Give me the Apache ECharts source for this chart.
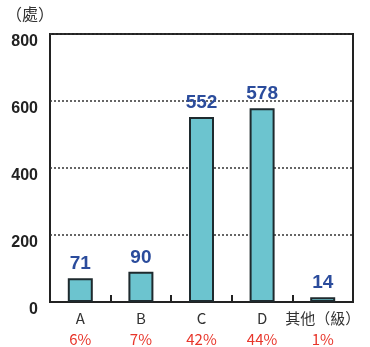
<!DOCTYPE html>
<html><head><meta charset="utf-8">
<script src="https://cdn.jsdelivr.net/npm/echarts@6/dist/echarts.min.js"></script>
<style>html,body{margin:0;padding:0;background:#fff}#c{width:370px;height:347px}</style>
</head><body><div id="c"></div>
<script>
const categories = ['A', 'B', 'C', 'D', '其他（級）'];
const counts = [71, 90, 552, 578, 14];
const shares = ['6%', '7%', '42%', '44%', '1%'];
const yTicks = [0, 200, 400, 600, 800];

const chart = echarts.init(document.getElementById('c'));
chart.setOption({
  animation: false,
  graphic: [{
    type: 'text', left: 6, top: 6,
    style: { text: '（處）', fontSize: 16, fontFamily: 'Noto Sans CJK TC', fill: '#333' }
  }],
  grid: { left: 50, right: 17, top: 34, bottom: 45, show: true, borderColor: '#222', borderWidth: 2 },
  xAxis: {
    type: 'category', data: categories,
    axisLine: { lineStyle: { color: '#222', width: 2 } },
    axisTick: { show: true, inside: true, length: 7, lineStyle: { color: '#222', width: 2 } },
    axisLabel: {
      interval: 0, margin: 6,
      formatter: (v, i) => '{n|' + v + '}\n{p|' + shares[i] + '}',
      rich: {
        n: { fontSize: 15, fontFamily: 'Noto Sans CJK TC', color: '#333', lineHeight: 20 },
        p: { fontSize: 15, fontFamily: 'Noto Sans CJK TC', color: '#e8352a', lineHeight: 22 }
      }
    }
  },
  yAxis: {
    type: 'value', min: yTicks[0], max: yTicks[yTicks.length - 1], interval: 200,
    axisLine: { show: false }, axisTick: { show: false },
    axisLabel: { margin: 12, verticalAlign: 'top', color: '#222', fontWeight: 'bold', fontSize: 16, fontFamily: 'Liberation Sans' },
    splitLine: { lineStyle: { color: '#333', type: [2, 2], width: 1.5 } }
  },
  series: [{
    type: 'bar', data: counts, barWidth: 25,
    itemStyle: { color: '#6cc4cf', borderColor: '#1e2a2e', borderWidth: 2 },
    label: { show: true, position: 'top', distance: 5, color: '#2b4c9c', fontWeight: 'bold', fontSize: 19, fontFamily: 'Liberation Sans' }
  }]
});
</script></body></html>
